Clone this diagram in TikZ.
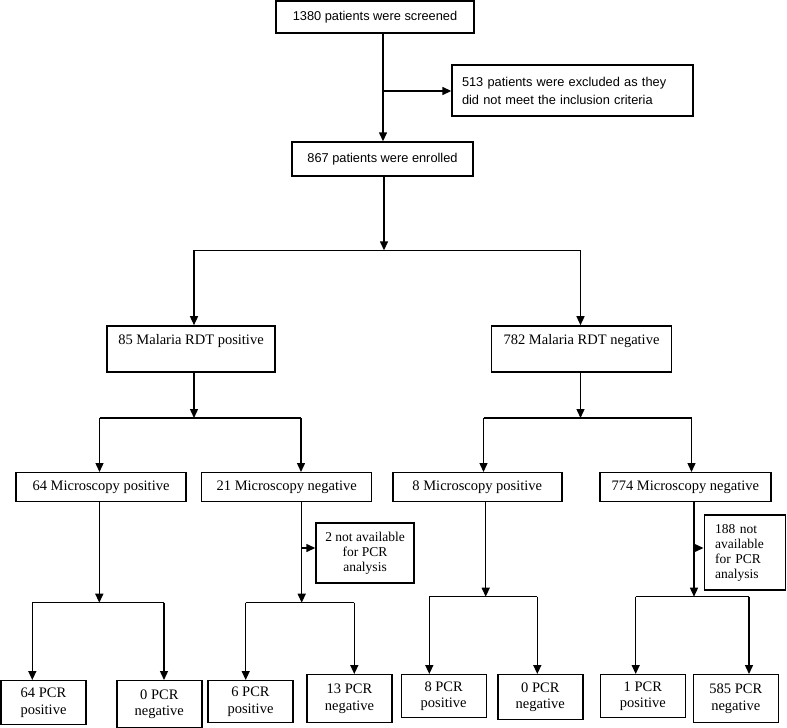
\documentclass[tikz,border=0pt]{standalone}
\usepackage{fontspec}
\setmainfont{Liberation Serif}
\setsansfont{Liberation Sans}
\usetikzlibrary{arrows.meta,calc}

\begin{document}
\begin{tikzpicture}[x=1pt,y=-1pt,line width=1.4pt,
  box/.style={draw,line width=1.4pt,inner sep=0pt,minimum height=29pt,
    font=\fontsize{14.5}{16}\selectfont},
  sbox/.style={box,font=\sffamily\fontsize{12.8}{18}\selectfont},
  pcr/.style={box,anchor=north,minimum width=85pt,minimum height=44pt,
    align=center,font=\fontsize{14.5}{16.5}\selectfont},
  note/.style={box,font=\fontsize{13.5}{15}\selectfont},
  arr/.style={-{Triangle[length=9pt,width=8pt]}}]
\useasboundingbox (0,0) rectangle (787,728);

% screening
\node[sbox,minimum width=198pt,minimum height=32pt] (scr) at (375,17) {1380 patients were screened};
\node[sbox,minimum width=241pt,minimum height=51pt,align=left,text width=221pt] (excl) at (572.5,90.5)
  {513 patients were excluded as they\\did not meet the inclusion criteria};
\node[sbox,minimum width=181pt,minimum height=34pt] (enr) at (382.5,159) {867 patients were enrolled};

% RDT
\node[box,minimum width=168pt,text height=19pt,text depth=27pt] (rdtp) at (191,348.9) {85 Malaria RDT positive};
\node[box,minimum width=180pt,text height=19pt,text depth=27pt] (rdtn) at (581.5,348.9) {782 Malaria RDT negative};

% microscopy
\node[box,minimum width=170pt] (mp1) at (101,487.2) {64 Microscopy positive};
\node[box,minimum width=170pt] (mn1) at (286.7,487.2) {21 Microscopy negative};
\node[box,minimum width=169pt] (mp2) at (477.3,487.2) {8 Microscopy positive};
\node[box,minimum width=171pt] (mn2) at (685.3,487.2) {774 Microscopy negative};

\node[note,minimum width=98pt,minimum height=60pt,align=center] (na1) at (365,553)
  {2 not available\\for PCR\\analysis};
\node[note,minimum width=81pt,minimum height=75pt,align=left,text width=59pt] (na2) at (744.7,552.5)
  {188 not\\available\\for PCR\\analysis};

% PCR
\node[pcr] (pc1) at (43.5,680) {64 PCR\\positive};
\node[pcr,minimum height=47pt] (pc2) at (159.3,680) {0 PCR\\negative};
\node[pcr,minimum height=42pt] (pc3) at (250.5,680) {6 PCR\\positive};
\node[pcr,minimum height=48pt] (pc4) at (349.5,674) {13 PCR\\negative};
\node[pcr,minimum height=43pt] (pc5) at (443.7,674) {8 PCR\\positive};
\node[pcr,minimum height=45pt] (pc6) at (540.3,674) {0 PCR\\negative};
\node[pcr,minimum height=43pt] (pc7) at (642.8,674) {1 PCR\\positive};
\node[pcr,minimum height=48pt] (pc8) at (735.8,674) {585 PCR\\negative};

% connectors
\coordinate (s1) at (383,91);
\draw[arr] (scr.south -| s1) -- (enr.north -| s1);
\draw[arr] (s1) -- (excl.west |- s1);

\coordinate (f0) at (384,250.3);
\coordinate (f0l) at (194,250.3);
\coordinate (f0r) at (580.5,250.3);
\draw[arr] (enr.south -| f0) -- (f0);
\draw (f0l) -- (f0r);
\draw[arr] (f0l) -- (f0l |- rdtp.north);
\draw[arr] (f0r) -- (f0r |- rdtn.north);

\foreach \up/\p/\q/\x/\y/\l/\r [count=\i] in
  {rdtp/mp1/mn1/194/418/99.5/301, rdtn/mp2/mn2/580.5/418/483.5/691.5}{
  \coordinate (f\i) at (\x,\y);
  \coordinate (fl\i) at (\l,\y);
  \coordinate (fr\i) at (\r,\y);
  \draw[arr] (f\i |- \up.south) -- (f\i);
  \draw (fl\i) -- (fr\i);
  \draw[arr] (fl\i) -- (fl\i |- \p.north);
  \draw[arr] (fr\i) -- (fr\i |- \q.north);
}

\foreach \up/\p/\q/\x/\y/\l/\r [count=\i] in
  {mp1/pc1/pc2/99.3/602.7/32.3/164, mn1/pc3/pc4/301.7/602.7/245.7/354.3,
   mp2/pc5/pc6/485.7/596.7/429.3/537.3, mn2/pc7/pc8/694/596.7/635.7/749}{
  \coordinate (g\i) at (\x,\y);
  \coordinate (gl\i) at (\l,\y);
  \coordinate (gr\i) at (\r,\y);
  \draw[arr] (g\i |- \up.south) -- (g\i);
  \draw (gl\i) -- (gr\i);
  \draw[arr] (gl\i) -- (gl\i |- \p.north);
  \draw[arr] (gr\i) -- (gr\i |- \q.north);
}

% not available for PCR
\coordinate (n1) at (301.7,548);
\coordinate (n2) at (694,548);
\draw[arr] (n1) -- (n1 -| na1.west);
\draw[arr] (n2) -- (n2 -| na2.west);

\end{tikzpicture}
\end{document}
